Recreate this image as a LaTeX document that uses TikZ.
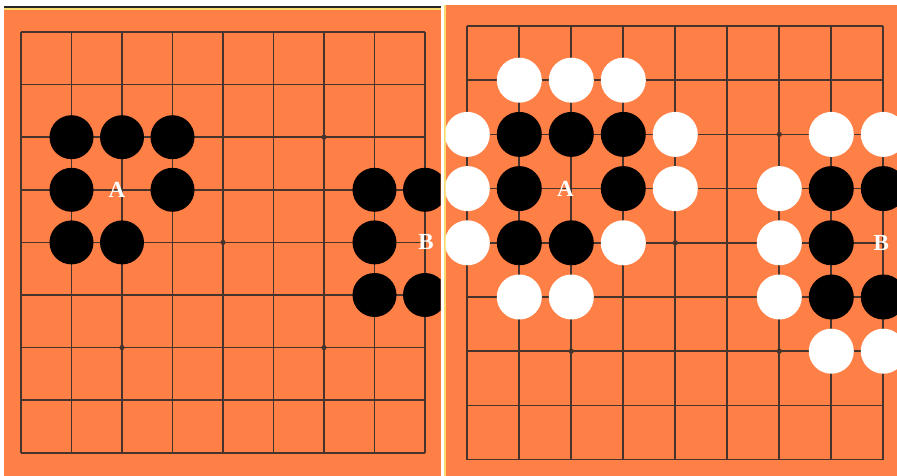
\documentclass[tikz,border=0pt]{standalone}
\usepackage{fontspec}
\setmainfont{Liberation Serif}
\definecolor{board}{RGB}{255,128,70}
\definecolor{gridc}{RGB}{70,52,44}
\definecolor{stripe}{RGB}{250,220,110}
\tikzset{
  gridline/.style={draw=gridc, line width=1.7pt},
  blackstone/.style={fill=black},
  whitestone/.style={fill=white},
  star/.style={fill=gridc},
  lbl/.style={text=white, font=\fontsize{23}{23}\selectfont\bfseries, inner sep=0pt}
}
\begin{document}
\begin{tikzpicture}[x=1pt,y=-1pt]
\useasboundingbox (0,0) rectangle (897,476);
\fill[white] (0,0) rectangle (897,476);
% ---------------- left panel ----------------
\fill[board] (4,6) rectangle (440.7,476);
\fill[black!85] (4,6) rectangle (440.7,8.2);
\fill[stripe] (4,8.2) rectangle (440.7,10);
\begin{scope}
\clip (4,10) rectangle (440.7,476);
\def\lx{21}\def\ldx{50.5}\def\ly{32}\def\ldy{52.6}
\foreach \i in {0,...,8} {
  \draw[gridline] (\lx+\i*\ldx,\ly) -- (\lx+\i*\ldx,\ly+8*\ldy);
  \draw[gridline] (\lx,\ly+\i*\ldy) -- (\lx+8*\ldx,\ly+\i*\ldy);
}
\foreach \c/\r in {2/2,6/2,4/4,2/6,6/6}
  \fill[star] (\lx+\c*\ldx,\ly+\r*\ldy) circle (2.6);
\foreach \c/\r in {1/2,2/2,3/2,1/3,3/3,1/4,2/4,7/3,8/3,7/4,7/5,8/5}
  \fill[blackstone] (\lx+\c*\ldx,\ly+\r*\ldy) circle (22);
\node[lbl] (la) at (\lx+2*\ldx-5,\ly+3*\ldy) {A};
\node[lbl] (lb) at (\lx+8*\ldx+1,\ly+4*\ldy) {B};
\end{scope}
% ---------------- right panel ----------------
\fill[stripe] (443.5,5) rectangle (445.6,476);
\fill[board] (445.6,5) rectangle (897,476);
\begin{scope}
\clip (445.6,5) rectangle (897,476);
\def\rx{467.3}\def\rdx{52}\def\ry{26}\def\rdy{54.2}
\foreach \i in {0,...,8} {
  \draw[gridline] (\rx+\i*\rdx,\ry) -- (\rx+\i*\rdx,\ry+8*\rdy);
  \draw[gridline] (\rx,\ry+\i*\rdy) -- (\rx+8*\rdx,\ry+\i*\rdy);
}
\foreach \c/\r in {2/2,6/2,4/4,2/6,6/6}
  \fill[star] (\rx+\c*\rdx,\ry+\r*\rdy) circle (2.6);
\foreach \c/\r in {1/2,2/2,3/2,1/3,3/3,1/4,2/4,7/3,8/3,7/4,7/5,8/5}
  \fill[blackstone] (\rx+\c*\rdx,\ry+\r*\rdy) circle (22.5);
\foreach \c/\r in {1/1,2/1,3/1,0/2,4/2,0/3,4/3,0/4,3/4,1/5,2/5,7/2,8/2,6/3,6/4,6/5,7/6,8/6}
  \fill[whitestone] (\rx+\c*\rdx,\ry+\r*\rdy) circle (22.5);
\node[lbl] (ra) at (\rx+2*\rdx-6,\ry+3*\rdy) {A};
\node[lbl] (rb) at (\rx+8*\rdx-2,\ry+4*\rdy) {B};
\end{scope}
\end{tikzpicture}
\end{document}
